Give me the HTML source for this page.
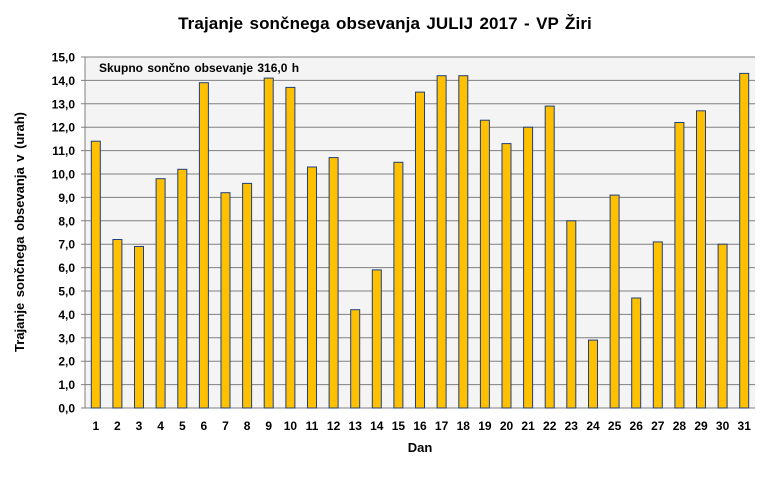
<!DOCTYPE html>
<html><head><meta charset="utf-8"><style>body{margin:0;background:#fff}svg{display:block;font-family:"Liberation Sans",Arial,sans-serif;font-weight:bold}</style></head><body>
<svg width="770" height="479" xmlns="http://www.w3.org/2000/svg">
<rect x="85" y="57" width="670" height="351" fill="#f4f4f4"/>
<g stroke="#808080" stroke-width="1">
<line x1="81" x2="755" y1="408" y2="408"/><line x1="81" x2="755" y1="384.6" y2="384.6"/><line x1="81" x2="755" y1="361.2" y2="361.2"/><line x1="81" x2="755" y1="337.8" y2="337.8"/><line x1="81" x2="755" y1="314.4" y2="314.4"/><line x1="81" x2="755" y1="291" y2="291"/><line x1="81" x2="755" y1="267.6" y2="267.6"/><line x1="81" x2="755" y1="244.2" y2="244.2"/><line x1="81" x2="755" y1="220.8" y2="220.8"/><line x1="81" x2="755" y1="197.4" y2="197.4"/><line x1="81" x2="755" y1="174" y2="174"/><line x1="81" x2="755" y1="150.6" y2="150.6"/><line x1="81" x2="755" y1="127.2" y2="127.2"/><line x1="81" x2="755" y1="103.8" y2="103.8"/><line x1="81" x2="755" y1="80.4" y2="80.4"/><line x1="81" x2="755" y1="57" y2="57"/>
<line x1="85" x2="85" y1="57" y2="408"/>
</g>
<g font-size="12" text-anchor="end">
<text x="75" y="412.5">0,0</text><text x="75" y="389.1">1,0</text><text x="75" y="365.7">2,0</text><text x="75" y="342.3">3,0</text><text x="75" y="318.9">4,0</text><text x="75" y="295.5">5,0</text><text x="75" y="272.1">6,0</text><text x="75" y="248.7">7,0</text><text x="75" y="225.3">8,0</text><text x="75" y="201.9">9,0</text><text x="75" y="178.5">10,0</text><text x="75" y="155.1">11,0</text><text x="75" y="131.7">12,0</text><text x="75" y="108.3">13,0</text><text x="75" y="84.9">14,0</text><text x="75" y="61.5">15,0</text>
</g>
<g fill="#ffc000" stroke="#1f3f7f" stroke-width="1">
<rect x="91.3" y="141.2" width="9" height="266.8"/>
<rect x="112.9" y="239.5" width="9" height="168.5"/>
<rect x="134.5" y="246.5" width="9" height="161.5"/>
<rect x="156.1" y="178.7" width="9" height="229.3"/>
<rect x="177.8" y="169.3" width="9" height="238.7"/>
<rect x="199.4" y="82.7" width="9" height="325.3"/>
<rect x="221" y="192.7" width="9" height="215.3"/>
<rect x="242.6" y="183.4" width="9" height="224.6"/>
<rect x="264.2" y="78.1" width="9" height="329.9"/>
<rect x="285.9" y="87.4" width="9" height="320.6"/>
<rect x="307.5" y="167" width="9" height="241"/>
<rect x="329.1" y="157.6" width="9" height="250.4"/>
<rect x="350.7" y="309.7" width="9" height="98.3"/>
<rect x="372.3" y="269.9" width="9" height="138.1"/>
<rect x="393.9" y="162.3" width="9" height="245.7"/>
<rect x="415.5" y="92.1" width="9" height="315.9"/>
<rect x="437.1" y="75.7" width="9" height="332.3"/>
<rect x="458.8" y="75.7" width="9" height="332.3"/>
<rect x="480.4" y="120.2" width="9" height="287.8"/>
<rect x="502" y="143.6" width="9" height="264.4"/>
<rect x="523.6" y="127.2" width="9" height="280.8"/>
<rect x="545.2" y="106.1" width="9" height="301.9"/>
<rect x="566.8" y="220.8" width="9" height="187.2"/>
<rect x="588.5" y="340.1" width="9" height="67.9"/>
<rect x="610.1" y="195.1" width="9" height="212.9"/>
<rect x="631.7" y="298" width="9" height="110"/>
<rect x="653.3" y="241.9" width="9" height="166.1"/>
<rect x="674.9" y="122.5" width="9" height="285.5"/>
<rect x="696.5" y="110.8" width="9" height="297.2"/>
<rect x="718.1" y="244.2" width="9" height="163.8"/>
<rect x="739.7" y="73.4" width="9" height="334.6"/>
</g>
<g font-size="12" text-anchor="middle">
<text x="95.8" y="430">1</text><text x="117.4" y="430">2</text><text x="139" y="430">3</text><text x="160.6" y="430">4</text><text x="182.3" y="430">5</text><text x="203.9" y="430">6</text><text x="225.5" y="430">7</text><text x="247.1" y="430">8</text><text x="268.7" y="430">9</text><text x="290.4" y="430">10</text><text x="312" y="430">11</text><text x="333.6" y="430">12</text><text x="355.2" y="430">13</text><text x="376.8" y="430">14</text><text x="398.4" y="430">15</text><text x="420" y="430">16</text><text x="441.6" y="430">17</text><text x="463.3" y="430">18</text><text x="484.9" y="430">19</text><text x="506.5" y="430">20</text><text x="528.1" y="430">21</text><text x="549.7" y="430">22</text><text x="571.3" y="430">23</text><text x="593" y="430">24</text><text x="614.6" y="430">25</text><text x="636.2" y="430">26</text><text x="657.8" y="430">27</text><text x="679.4" y="430">28</text><text x="701" y="430">29</text><text x="722.6" y="430">30</text><text x="744.2" y="430">31</text>
</g>
<text x="385" y="29" text-anchor="middle" font-size="17" letter-spacing="0.1" word-spacing="1.5">Trajanje  sončnega obsevanja  JULIJ 2017 - VP Žiri</text>
<text x="99" y="72" font-size="12" word-spacing="1">Skupno sončno obsevanje  316,0 h</text>
<text x="420" y="452" text-anchor="middle" font-size="13">Dan</text>
<text transform="translate(24,232) rotate(-90)" text-anchor="middle" font-size="13" word-spacing="2">Trajanje  sončnega obsevanja  v (urah)</text>
</svg>
</body></html>
